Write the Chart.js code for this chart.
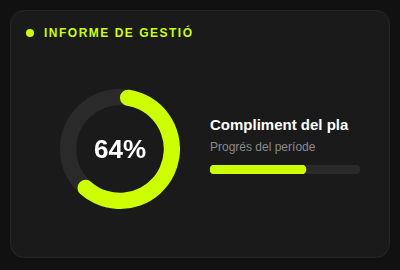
<!DOCTYPE html>
<html>
<head>
<meta charset="utf-8">
<script src="https://cdn.jsdelivr.net/npm/chart.js@4.4.1/dist/chart.umd.min.js"></script>
<style>
  html, body { margin: 0; padding: 0; background: #111111; width: 400px; height: 270px; overflow: hidden; }
  body { font-family: "Liberation Sans", Arial, sans-serif; position: relative; }
  .card {
    position: absolute; left: 10px; top: 10px; width: 378px; height: 246px;
    background: #1a1a1a; border: 1px solid #262626; border-radius: 14px;
  }
  .dot { position: absolute; left: 26px; top: 29px; width: 8px; height: 8px; border-radius: 50%; background: #ccff00; }
  .title {
    position: absolute; left: 44px; top: 26px; font-size: 12px; font-weight: bold;
    letter-spacing: 1.5px; color: #ccff00; line-height: 14px; white-space: nowrap;
  }
  .ring { position: absolute; left: 60px; top: 89px; width: 120px; height: 120px; }
  .center {
    position: absolute; left: 60px; top: 89px; width: 120px; height: 120px;
    display: flex; align-items: center; justify-content: center;
    color: #ffffff; font-size: 26px; font-weight: bold;
  }
  .label { position: absolute; left: 210px; top: 116px; color: #ffffff; font-size: 15px; font-weight: bold; line-height: 18px; white-space: nowrap; }
  .sub { position: absolute; left: 210px; top: 140px; color: #8a8a8a; font-size: 12px; line-height: 15px; white-space: nowrap; }
  .bar { position: absolute; left: 210px; top: 165px; width: 150px; height: 9px; }
</style>
</head>
<body>
<div class="card"></div>
<div class="dot"></div>
<div class="title">INFORME DE GESTIÓ</div>
<div class="ring"><canvas id="ring-chart" width="120" height="120"></canvas></div>
<div class="center" id="center-text"></div>
<div class="label" id="label-text"></div>
<div class="sub" id="sub-text"></div>
<div class="bar"><canvas id="bar-chart" width="150" height="9"></canvas></div>
<script>
const reportTitle = "INFORME DE GESTIÓ";
const metricLabel = "Compliment del pla";
const metricSub = "Progrés del període";
const progressValue = [64];
const progressMax = [100];

const lime = "#ccff00";
const track = "#2a2a2a";

document.getElementById("center-text").textContent = progressValue[0] + "%";
document.getElementById("label-text").textContent = metricLabel;
document.getElementById("sub-text").textContent = metricSub;

// draws the grey track ring behind the arc
const trackPlugin = {
  id: "track",
  beforeDatasetsDraw(chart) {
    const arc = chart.getDatasetMeta(0).data[0];
    if (!arc) return;
    const ctx = chart.ctx;
    const r = (arc.outerRadius + arc.innerRadius) / 2;
    ctx.save();
    ctx.beginPath();
    ctx.arc(arc.x, arc.y, r, 0, Math.PI * 2);
    ctx.lineWidth = arc.outerRadius - arc.innerRadius;
    ctx.strokeStyle = track;
    ctx.stroke();
    ctx.restore();
  },
};

new Chart(document.getElementById("ring-chart"), {
  type: "doughnut",
  data: {
    labels: ["done", "rest"],
    datasets: [
      {
        data: [progressValue[0], progressMax[0] - progressValue[0]],
        backgroundColor: [lime, "rgba(0,0,0,0)"],
        borderWidth: 0,
        borderRadius: [20, 0],
        hoverOffset: 0,
      },
    ],
  },
  options: {
    responsive: false,
    animation: false,
    cutout: "73%",
    layout: { padding: 0 },
    events: [],
    plugins: { legend: { display: false }, tooltip: { enabled: false } },
  },
  plugins: [trackPlugin],
});

new Chart(document.getElementById("bar-chart"), {
  type: "bar",
  data: {
    labels: [metricLabel],
    datasets: [
      {
        data: progressValue,
        backgroundColor: lime,
        borderRadius: 5,
        borderSkipped: false,
        order: 1,
        barPercentage: 1,
        categoryPercentage: 1,
        grouped: false,
      },
      {
        data: progressMax,
        backgroundColor: track,
        borderRadius: 5,
        borderSkipped: false,
        order: 2,
        barPercentage: 1,
        categoryPercentage: 1,
        grouped: false,
      },
    ],
  },
  options: {
    indexAxis: "y",
    responsive: false,
    animation: false,
    events: [],
    layout: { padding: 0 },
    scales: {
      x: { display: false, min: 0, max: progressMax[0] },
      y: { display: false },
    },
    plugins: { legend: { display: false }, tooltip: { enabled: false } },
  },
});
</script>
</body>
</html>
